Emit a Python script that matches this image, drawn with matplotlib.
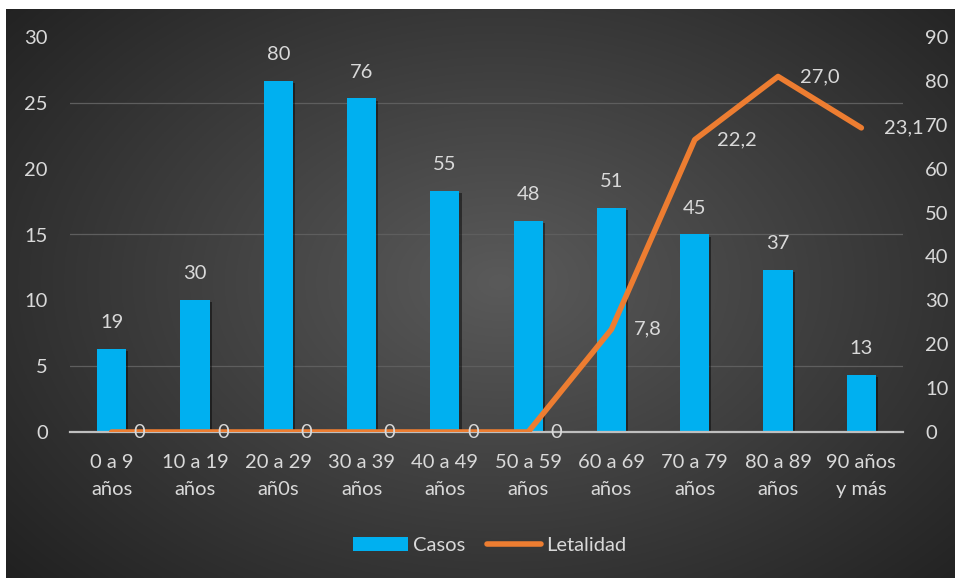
import numpy as np
import matplotlib
matplotlib.use('Agg')
import matplotlib.pyplot as plt
from matplotlib.ticker import MultipleLocator
from matplotlib.lines import Line2D
from matplotlib.patches import Patch
import matplotlib.patheffects as pe

plt.rcParams['font.family'] = ['Lato', 'DejaVu Sans']

# data
grupos = ['0 a 9\naños', '10 a 19\naños', '20 a 29\nañ0s', '30 a 39\naños',
          '40 a 49\naños', '50 a 59\naños', '60 a 69\naños', '70 a 79\naños',
          '80 a 89\naños', '90 años\ny más']
casos = [19, 30, 80, 76, 55, 48, 51, 45, 37, 13]
letalidad = [0, 0, 0, 0, 0, 0, 7.8, 22.2, 27.0, 23.1]

BAR = '#00b0f0'
LINE = '#ed7d31'
TXT = '#d9d9d9'
FS = 14.5

fig = plt.figure(figsize=(9.55, 5.78), dpi=100, facecolor='white')

# dark radial gradient panel
bg = fig.add_axes([6/955, 0, 949/955, 569/578], zorder=-10)
yy, xx = np.mgrid[0:1:300j, 0:1:500j]
r = np.sqrt(((xx - 0.52) / 0.75) ** 2 + ((yy - 0.52) / 0.85) ** 2)
shade = np.clip(1 - r, 0, 1)
lo = np.array([0x1c, 0x1c, 0x1c]) / 255
hi = np.array([0x5a, 0x5a, 0x5a]) / 255
img = lo + (hi - lo) * shade[..., None]
bg.imshow(img, aspect='auto', extent=(0, 1, 0, 1), origin='lower')
bg.set_axis_off()

ax = fig.add_axes([70/955, 146/578, 833/955, 395/578])
ax2 = ax.twinx()
ax.set_zorder(ax2.get_zorder() + 1)
ax.patch.set_visible(False)
ax2.patch.set_visible(False)

x = np.arange(len(grupos))

# bars on the right axis (0-90)
bars = ax2.bar(x, casos, width=0.35, color=BAR, zorder=3)
for b in bars:
    b.set_path_effects([pe.SimplePatchShadow(offset=(1.5, -1.5), shadow_rgbFace='black', alpha=0.45),
                        pe.Normal()])
for xi, v in zip(x, casos):
    ax2.annotate(str(v), xy=(xi, v), xytext=(0, 19), textcoords='offset points',
                 ha='center', va='center', color=TXT, fontsize=FS)

# line on the left axis (0-30)
ax.plot(x, letalidad, color=LINE, linewidth=4, solid_capstyle='round',
        solid_joinstyle='round', zorder=4)
for xi, v in zip(x, letalidad):
    lab = '0' if v == 0 else f'{v:.1f}'.replace('.', ',')
    ax.annotate(lab, xy=(xi, v), xytext=(16, 0), textcoords='offset points',
                ha='left', va='center', color=TXT, fontsize=FS, zorder=5)

ax.set_xlim(-0.5, len(grupos) - 0.5)
ax.set_ylim(0, 30)
ax2.set_ylim(0, 90)
ax.yaxis.set_major_locator(MultipleLocator(5))
ax2.yaxis.set_major_locator(MultipleLocator(10))

# gridlines behind the bars
ax2.yaxis.set_minor_locator(MultipleLocator(15))
ax2.grid(axis='y', which='minor', color='#5e5e5e', linewidth=0.9)
ax2.tick_params(axis='y', which='minor', length=0)
ax2.set_axisbelow(True)

ax.set_xticks(x)
ax.set_xticklabels(grupos, linespacing=1.7)
for a in (ax, ax2):
    for s in a.spines.values():
        s.set_visible(False)
ax.spines['bottom'].set_visible(True)
ax.spines['bottom'].set_color('#bfbfbf')
ax.spines['bottom'].set_linewidth(1.6)
ax.spines['bottom'].set_zorder(2)

ax.tick_params(axis='x', length=0, pad=16, colors=TXT, labelsize=FS)
ax.tick_params(axis='y', length=0, pad=16, colors=TXT, labelsize=FS)
ax2.tick_params(axis='y', which='major', length=0, pad=16, colors=TXT, labelsize=FS)

handles = [Patch(facecolor=BAR, label='Casos'),
           Line2D([0], [0], color=LINE, linewidth=4, solid_capstyle='round', label='Letalidad')]
fig.legend(handles=handles, loc='center', bbox_to_anchor=(0.513, 0.057), ncol=2,
           frameon=False, fontsize=FS, labelcolor=TXT, handlelength=2.7,
           handletextpad=0.25, columnspacing=1.1)

fig.savefig('out.png', dpi=100, facecolor='white')
